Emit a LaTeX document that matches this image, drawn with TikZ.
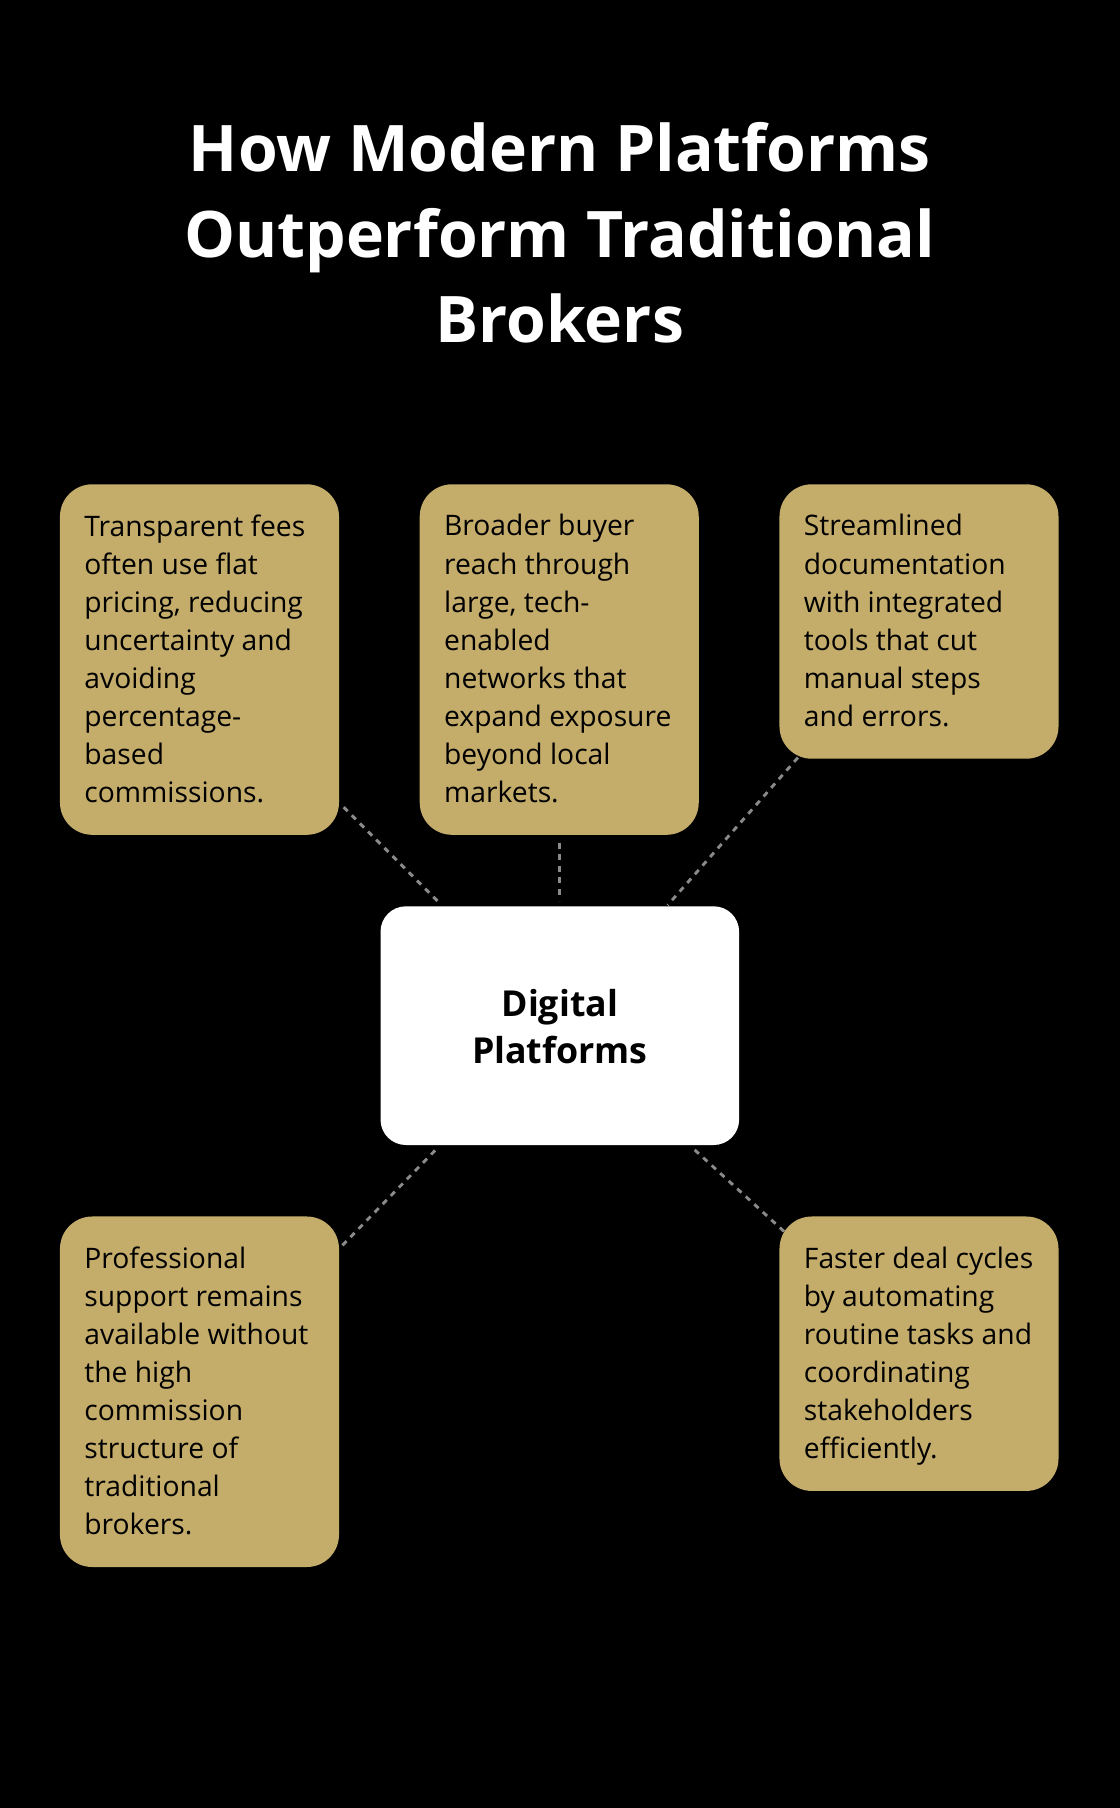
\documentclass[tikz,border=0pt]{standalone}
\usepackage{fontspec}
\setmainfont{Open Sans}
\definecolor{tan}{HTML}{C4AC6A}
\definecolor{dash}{HTML}{8A8A8A}
\begin{document}
\begin{tikzpicture}[x=1pt,y=-1pt,
  card/.style={fill=tan,rounded corners=28pt,draw=none},
  txt/.style={anchor=north west,align=left,inner sep=0pt,font=\fontsize{24.5}{33}\selectfont,text=black},
  link/.style={draw=dash,line width=2.5pt,dash pattern=on 5pt off 5pt}]
\fill[black] (0,0) rectangle (971,1568);
\node[align=center,text=white,font=\fontsize{55.7}{74}\bfseries\selectfont] (title) at (485.5,202) {How Modern Platforms\\Outperform Traditional\\Brokers};
\fill[card] (52,420) rectangle (294,724);
\node[txt] (ta) at (73,446) {Transparent fees\\often use flat\\pricing, reducing\\uncertainty and\\avoiding\\percentage-\\based\\commissions.};
\fill[card] (364,420) rectangle (606,724);
\node[txt] (tb) at (385,446) {Broader buyer\\reach through\\large, tech-\\enabled\\networks that\\expand exposure\\beyond local\\markets.};
\fill[card] (676,420) rectangle (918,658);
\node[txt] (tc) at (697,446) {Streamlined\\documentation\\with integrated\\tools that cut\\manual steps\\and errors.};
\fill[card] (52,1055) rectangle (294,1359);
\node[txt] (td) at (73,1081) {Professional\\support remains\\available without\\the high\\commission\\structure of\\traditional\\brokers.};
\fill[card] (676,1055) rectangle (918,1293);
\node[txt] (te) at (697,1081) {Faster deal cycles\\by automating\\routine tasks and\\coordinating\\stakeholders\\efficiently.};
\fill[white,rounded corners=22pt] (330,786) rectangle (641,993);
\node[align=center,font=\fontsize{31}{41}\bfseries\selectfont] (c) at (485.5,890) {Digital\\Platforms};
\coordinate (p1) at (298,700); \coordinate (q1) at (380,782);
\coordinate (p2) at (485,731); \coordinate (q2) at (485,781);
\coordinate (p3) at (692,657); \coordinate (q3) at (579,785);
\coordinate (p4) at (297,1080); \coordinate (q4) at (378,997);
\coordinate (p5) at (680,1068); \coordinate (q5) at (600,995);
\draw[link] (p1)--(q1); \draw[link] (p2)--(q2); \draw[link] (p3)--(q3);
\draw[link] (p4)--(q4); \draw[link] (p5)--(q5);
\end{tikzpicture}
\end{document}
